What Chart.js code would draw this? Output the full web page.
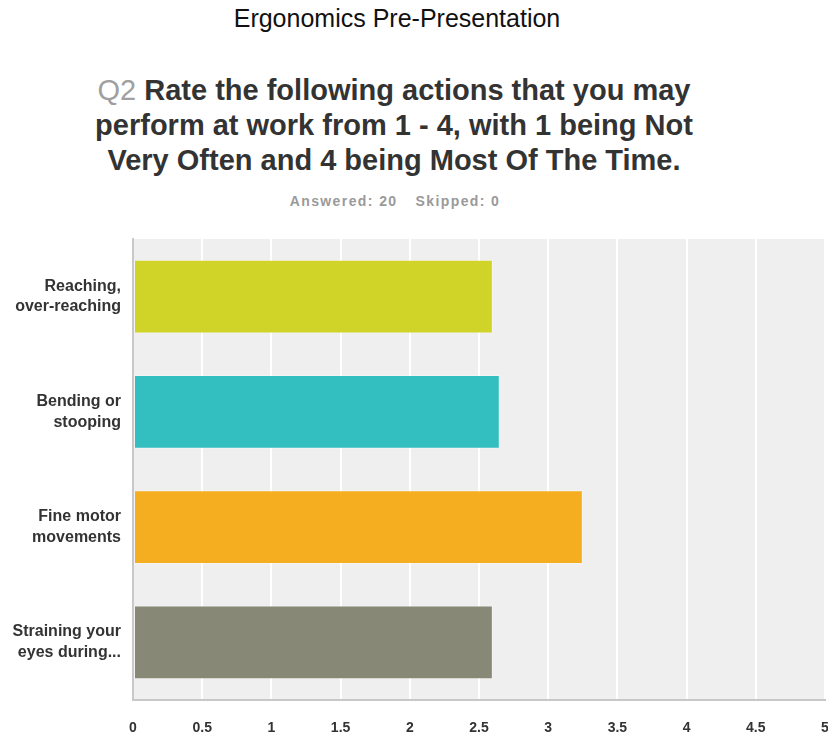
<!DOCTYPE html>
<html>
<head>
<meta charset="utf-8">
<script src="https://cdn.jsdelivr.net/npm/chart.js@4.4.0/dist/chart.umd.min.js"></script>
<style>
  html, body { margin: 0; padding: 0; background: #fff; }
  body { width: 828px; height: 741px; position: relative; overflow: hidden; font-family: "Liberation Sans", Arial, sans-serif; }
  #survey { position: absolute; left: 0; top: 4px; width: 794px; text-align: center; color: #111; font-size: 25px; }
  #question { position: absolute; left: 0; top: 73px; width: 788px; text-align: center; font-weight: bold; font-size: 29px; line-height: 35px; color: #333; }
  #question .qnum { color: #a0a0a0; font-weight: normal; }
  #stats { position: absolute; left: 0; top: 193px; width: 790px; text-align: center; font-weight: bold; font-size: 14px; letter-spacing: 1.4px; color: #9a9a9a; }
  #stats span { margin: 0 9px; }
  #wrap { position: absolute; left: 0; top: 230px; width: 828px; height: 511px; }
</style>
</head>
<body>
<div id="survey">Ergonomics Pre-Presentation</div>
<div id="question"><span class="qnum">Q2</span> Rate the following actions that you may<br>perform at work from 1 - 4, with 1 being Not<br>Very Often and 4 being Most Of The Time.</div>
<div id="stats"><span>Answered: 20</span><span>Skipped: 0</span></div>
<div id="wrap"><canvas id="ratingChart"></canvas></div>
<script>
const actions = [
  ['Reaching,', 'over-reaching'],
  ['Bending or', 'stooping'],
  ['Fine motor', 'movements'],
  ['Straining your', 'eyes during...']
];
const avgRatings = [2.60, 2.65, 3.25, 2.60];
const barColors = ['#d0d428', '#33bec0', '#f5ae20', '#878876'];
const xTicks = [0, 0.5, 1, 1.5, 2, 2.5, 3, 3.5, 4, 4.5, 5];

// grey panel behind the bars
const plotBg = {
  id: 'plotBg',
  beforeDraw(chart) {
    const { ctx, chartArea: a } = chart;
    ctx.save();
    ctx.fillStyle = '#efefef';
    ctx.fillRect(a.left, a.top, a.right - a.left, a.bottom - a.top);
    ctx.restore();
  }
};

const ctx = document.getElementById('ratingChart').getContext('2d');
new Chart(ctx, {
  type: 'bar',
  data: {
    labels: actions,
    datasets: [{
      data: avgRatings,
      backgroundColor: barColors,
      borderColor: 'rgba(255,255,255,0.35)',
      borderWidth: 1,
      borderSkipped: false,
      barPercentage: 0.64,
      categoryPercentage: 1
    }]
  },
  options: {
    indexAxis: 'y',
    responsive: true,
    maintainAspectRatio: false,
    animation: false,
    layout: { padding: { top: 9, right: 3, left: 0, bottom: 0 } },
    scales: {
      x: {
        min: 0,
        max: 5,
        afterBuildTicks(scale) { scale.ticks = xTicks.map(v => ({ value: v })); },
        grid: { color: '#ffffff', lineWidth: 2, drawTicks: false },
        border: { color: '#c8c8c8', width: 2 },
        ticks: {
          color: '#333',
          padding: 20,
          callback: v => String(v),
          font: { family: 'Liberation Sans', weight: 'bold', size: 14 }
        },
        afterFit(scale) {
          scale.height = 41;
          scale.paddingLeft = 0;
          scale.paddingRight = 0;
        }
      },
      y: {
        grid: { display: false, drawTicks: false },
        border: { color: '#c8c8c8', width: 2 },
        ticks: {
          color: '#333',
          padding: 12,
          font: { family: 'Liberation Sans', weight: 'bold', size: 16, lineHeight: 1.3 }
        },
        afterFit(scale) {
          scale.width = 133;
          scale.paddingTop = 0;
          scale.paddingBottom = 0;
        }
      }
    },
    plugins: {
      legend: { display: false },
      tooltip: { enabled: false }
    }
  },
  plugins: [plotBg]
});
</script>
</body>
</html>
